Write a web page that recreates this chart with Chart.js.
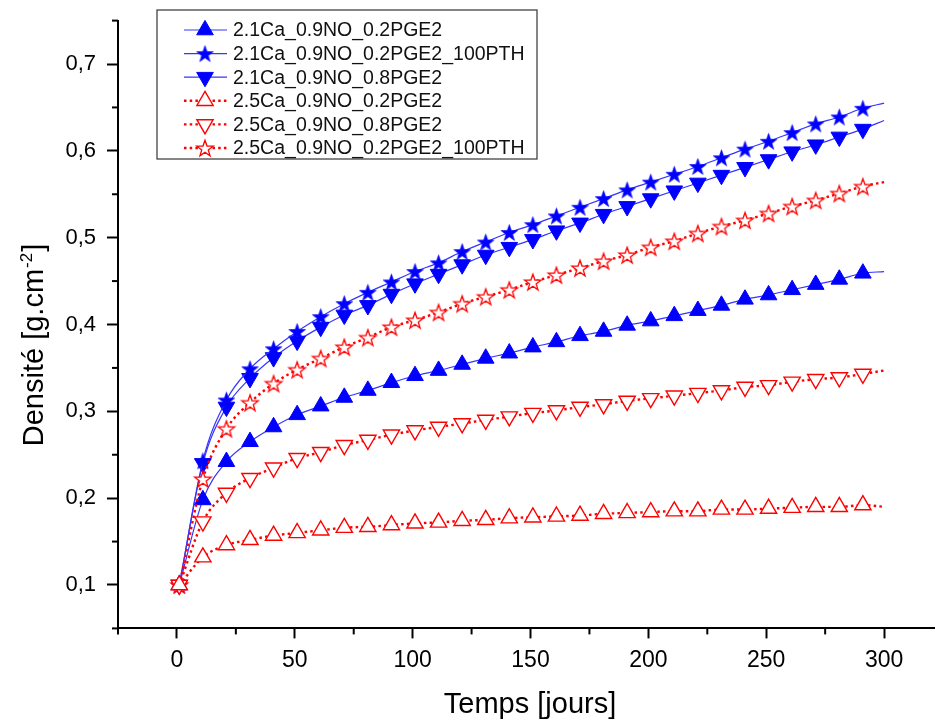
<!DOCTYPE html>
<html>
<head>
<meta charset="utf-8">
<script src="https://cdn.jsdelivr.net/npm/chart.js@4.4.1/dist/chart.umd.min.js"></script>
<style>
  html, body { margin: 0; padding: 0; background: #fff; overflow: hidden; width: 935px; height: 722px; }
  canvas { display: block; }
</style>
</head>
<body>
<canvas id="myChart" width="935" height="722"></canvas>
<script>
// jours de mesure (un point tous les 10 jours)
const days = [1, 11, 21, 31, 41, 51, 61, 71, 81, 91, 101, 111, 121, 131, 141,
              151, 161, 171, 181, 191, 201, 211, 221, 231, 241, 251, 261, 271, 281, 291];
// fin des courbes d'ajustement
const fitEndDay = 300;

const labels = [
  '2.1Ca_0.9NO_0.2PGE2',
  '2.1Ca_0.9NO_0.2PGE2_100PTH',
  '2.1Ca_0.9NO_0.8PGE2',
  '2.5Ca_0.9NO_0.2PGE2',
  '2.5Ca_0.9NO_0.8PGE2',
  '2.5Ca_0.9NO_0.2PGE2_100PTH'
];

const ca21_02 = [0.100, 0.198, 0.242, 0.265, 0.282, 0.296, 0.306, 0.316, 0.324, 0.333,
                 0.341, 0.347, 0.354, 0.361, 0.367, 0.374, 0.380, 0.387, 0.392, 0.399,
                 0.404, 0.410, 0.416, 0.422, 0.429, 0.434, 0.440, 0.446, 0.452, 0.459];
const ca21_02_pth = [0.100, 0.243, 0.313, 0.349, 0.372, 0.392, 0.409, 0.424, 0.437, 0.449,
                     0.461, 0.471, 0.484, 0.495, 0.506, 0.515, 0.525, 0.535, 0.545, 0.555,
                     0.564, 0.573, 0.582, 0.592, 0.602, 0.611, 0.621, 0.631, 0.639, 0.649];
const ca21_08 = [0.100, 0.240, 0.305, 0.338, 0.362, 0.381, 0.397, 0.411, 0.422, 0.435,
                 0.447, 0.458, 0.469, 0.480, 0.489, 0.498, 0.508, 0.517, 0.527, 0.536,
                 0.545, 0.554, 0.563, 0.572, 0.581, 0.590, 0.599, 0.607, 0.616, 0.625];
const ca25_02 = [0.100, 0.132, 0.146, 0.152, 0.157, 0.160, 0.163, 0.166, 0.167, 0.169,
                 0.171, 0.172, 0.174, 0.175, 0.177, 0.178, 0.179, 0.180, 0.182, 0.183,
                 0.184, 0.185, 0.185, 0.187, 0.187, 0.188, 0.189, 0.190, 0.190, 0.192];
const ca25_08 = [0.100, 0.173, 0.206, 0.223, 0.235, 0.246, 0.253, 0.261, 0.267, 0.273,
                 0.278, 0.282, 0.286, 0.290, 0.294, 0.298, 0.301, 0.305, 0.308, 0.312,
                 0.315, 0.318, 0.321, 0.324, 0.328, 0.330, 0.334, 0.337, 0.339, 0.343];
const ca25_02_pth = [0.100, 0.222, 0.280, 0.310, 0.332, 0.348, 0.361, 0.374, 0.385, 0.397,
                     0.405, 0.414, 0.424, 0.432, 0.440, 0.449, 0.457, 0.465, 0.473, 0.480,
                     0.489, 0.496, 0.505, 0.513, 0.520, 0.528, 0.536, 0.543, 0.551, 0.559];
// valeur des courbes d'ajustement a 300 jours
const fitEnd = [0.461, 0.655, 0.635, 0.190, 0.347, 0.564];

const xMinorTicks = [-25, 25, 75, 125, 175, 225, 275];
const yMinorTicks = [0.05, 0.15, 0.25, 0.35, 0.45, 0.55, 0.65, 0.75];

const FONT = '"Liberation Sans", Arial, Helvetica, sans-serif';
const BLUE = '#0000ff';
const BLUE_LINE = '#3535ff';
const RED = '#ff0000';

// etoile a 5 branches dessinee dans un petit canvas
const makeStar = (R, fill, stroke, lw) => {
  const s = Math.ceil(2 * R + 2 * lw + 2);
  const c = document.createElement('canvas');
  c.width = c.height = s;
  const g = c.getContext('2d');
  const cx = s / 2, cy = s / 2 + R * 0.095;
  g.beginPath();
  for (let i = 0; i < 10; i++) {
    const r = i % 2 ? R * 0.4 : R;
    const a = -Math.PI / 2 + i * Math.PI / 5;
    g.lineTo(cx + r * Math.cos(a), cy + r * Math.sin(a));
  }
  g.closePath();
  g.fillStyle = fill;
  g.fill();
  if (stroke) { g.strokeStyle = stroke; g.lineWidth = lw; g.stroke(); }
  return c;
};
const starBlue = makeStar(8.8, BLUE, BLUE, 0.6);
const starRed = makeStar(8.6, '#fff', RED, 1.3);

const toPoints = (values, end) => days.map((d, i) => ({ x: d, y: values[i] })).concat([{ x: fitEndDay, y: end }]);
const lastIdx = days.length;

const makeSet = (i, values, filled, style, rotation, size) => ({
  label: labels[i],
  data: toPoints(values, fitEnd[i]),
  borderColor: filled ? BLUE_LINE : RED,
  borderWidth: filled ? 1.2 : 2.4,
  borderDash: filled ? [] : [2.5, 3.2],
  cubicInterpolationMode: 'monotone',
  pointStyle: style,
  rotation: rotation,
  markerSize: size,
  pointRadius: (c) => c.dataIndex === lastIdx ? 0 : size,
  pointBackgroundColor: filled ? BLUE : '#fff',
  pointBorderColor: filled ? BLUE : RED,
  pointBorderWidth: filled ? 1 : 1.4,
  order: filled ? 1 : 0,
  fill: false
});

const datasets = [
  makeSet(0, ca21_02, true, 'triangle', 0, 9.6),
  makeSet(1, ca21_02_pth, true, starBlue, 0, 9),
  makeSet(2, ca21_08, true, 'triangle', 180, 9.6),
  makeSet(3, ca25_02, false, 'triangle', 0, 9.4),
  makeSet(4, ca25_08, false, 'triangle', 180, 9.4),
  makeSet(5, ca25_02_pth, false, starRed, 0, 9)
];

const isMajorX = (v) => Math.abs(v / 50 - Math.round(v / 50)) < 1e-6 && v >= 0 && v <= 300;
const isMajorY = (v) => Math.abs(v * 10 - Math.round(v * 10)) < 1e-6;

const drawMarker = (ctx, ds, x, y) => {
  const style = ds.pointStyle;
  if (typeof style !== 'string') {
    ctx.drawImage(style, x - style.width / 2, y - style.height / 2);
    return;
  }
  const r = ds.markerSize;
  let rad = (ds.rotation || 0) * Math.PI / 180;
  ctx.beginPath();
  for (let k = 0; k < 3; k++) {
    ctx.lineTo(x + Math.sin(rad) * r, y - Math.cos(rad) * r);
    rad += 2 * Math.PI / 3;
  }
  ctx.closePath();
  ctx.fillStyle = ds.pointBackgroundColor;
  ctx.fill();
  ctx.strokeStyle = ds.pointBorderColor;
  ctx.lineWidth = ds.pointBorderWidth;
  ctx.stroke();
};

// ticks mineurs, legende et titres des axes
const decor = {
  id: 'decor',
  afterDraw(chart) {
    const { ctx, chartArea, scales: { x, y } } = chart;
    ctx.save();
    ctx.strokeStyle = '#000';
    ctx.lineWidth = 2;
    xMinorTicks.forEach(v => {
      const px = x.getPixelForValue(v);
      ctx.beginPath(); ctx.moveTo(px, chartArea.bottom); ctx.lineTo(px, chartArea.bottom + 6); ctx.stroke();
    });
    yMinorTicks.forEach(v => {
      const py = y.getPixelForValue(v);
      ctx.beginPath(); ctx.moveTo(chartArea.left, py); ctx.lineTo(chartArea.left - 6, py); ctx.stroke();
    });

    // legende
    ctx.fillStyle = '#fff';
    ctx.fillRect(157, 10, 380, 149);
    ctx.strokeStyle = '#444';
    ctx.lineWidth = 1.3;
    ctx.strokeRect(157, 10, 380, 149);
    chart.data.datasets.forEach((ds, i) => {
      const ry = 30 + i * 23.6;
      ctx.save();
      ctx.strokeStyle = ds.borderColor;
      ctx.lineWidth = ds.borderWidth;
      ctx.setLineDash(ds.borderDash);
      ctx.beginPath(); ctx.moveTo(184, ry); ctx.lineTo(227, ry); ctx.stroke();
      ctx.restore();
      drawMarker(ctx, ds, 205, ry);
      ctx.fillStyle = '#111';
      ctx.font = '19.5px ' + FONT;
      ctx.textBaseline = 'middle';
      ctx.textAlign = 'left';
      ctx.fillText(ds.label, 233, ry + 1);
    });

    // titre axe x
    ctx.fillStyle = '#000';
    ctx.font = '29px ' + FONT;
    ctx.textAlign = 'center';
    ctx.textBaseline = 'alphabetic';
    ctx.fillText('Temps [jours]', 530, 713);

    // titre axe y avec exposant
    ctx.translate(43, 345);
    ctx.rotate(-Math.PI / 2);
    ctx.textAlign = 'left';
    const t1 = 'Densité [g.cm', t2 = '-2', t3 = ']';
    ctx.font = '29px ' + FONT;
    const w1 = ctx.measureText(t1).width, w3 = ctx.measureText(t3).width;
    ctx.font = '17px ' + FONT;
    const w2 = ctx.measureText(t2).width;
    const x0 = -(w1 + w2 + w3 + 2) / 2;
    ctx.font = '29px ' + FONT;
    ctx.fillText(t1, x0, 0);
    ctx.fillText(t3, x0 + w1 + w2 + 2, 0);
    ctx.font = '17px ' + FONT;
    ctx.fillText(t2, x0 + w1 + 1, -11);
    ctx.restore();
  }
};

let myChart;

const setup = () => {
  const ctxt = document.getElementById('myChart').getContext('2d');
  myChart = new Chart(ctxt, {
    type: 'line',
    data: { datasets: datasets },
    options: {
      responsive: false,
      animation: false,
      devicePixelRatio: 1,
      layout: { autoPadding: false, padding: { top: 20.6, right: 0, left: 0, bottom: 0 } },
      plugins: { legend: { display: false }, tooltip: { enabled: false } },
      scales: {
        x: {
          type: 'linear',
          min: -25,
          max: 321.6,
          afterFit: (s) => { s.height = 93.6; s.paddingLeft = 0; s.paddingRight = 0; },
          border: { color: '#000', width: 2 },
          grid: {
            drawOnChartArea: false,
            tickLength: 10,
            tickWidth: 2,
            tickColor: (c) => c.tick && isMajorX(c.tick.value) ? '#000' : 'rgba(0,0,0,0)'
          },
          ticks: {
            stepSize: 25,
            includeBounds: false,
            autoSkip: false,
            maxRotation: 0,
            padding: 8,
            color: '#000',
            font: { family: FONT, size: 23 },
            callback: (v) => isMajorX(v) ? String(Math.round(v)) : ''
          }
        },
        y: {
          min: 0.05,
          max: 0.75,
          afterFit: (s) => { s.width = 118; s.paddingTop = 0; s.paddingBottom = 0; },
          border: { color: '#000', width: 2 },
          grid: {
            drawOnChartArea: false,
            tickLength: 11,
            tickWidth: 2,
            tickColor: (c) => c.tick && isMajorY(c.tick.value) ? '#000' : 'rgba(0,0,0,0)'
          },
          ticks: {
            stepSize: 0.05,
            autoSkip: false,
            padding: 11,
            color: '#000',
            font: { family: FONT, size: 22 },
            callback: (v) => isMajorY(v) ? (Math.round(v * 10) / 10).toFixed(1).replace('.', ',') : ''
          }
        }
      }
    },
    plugins: [decor]
  });
};

window.addEventListener('DOMContentLoaded', setup);
</script>
</body>
</html>
